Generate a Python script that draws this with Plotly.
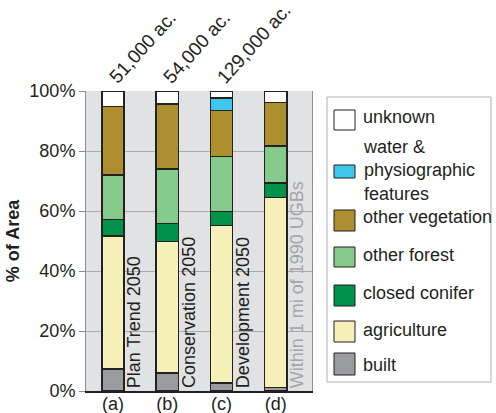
import plotly.graph_objects as go

scenarios = ["(a)", "(b)", "(c)", "(d)"]
scenario_names = ["Plan Trend 2050", "Conservation 2050", "Development 2050", "Within 1 mi of 1990 UGBs"]
areas = ["51,000 ac.", "54,000 ac.", "129,000 ac.", ""]

categories = ["built", "agriculture", "closed conifer", "other forest",
              "other vegetation", "water &<br>physiographic<br>features", "unknown"]
built = [7.3, 6.0, 2.6, 1.2]
agriculture = [44.4, 43.8, 52.5, 63.3]
closed_conifer = [5.4, 6.0, 4.8, 4.8]
other_forest = [14.9, 18.2, 18.3, 12.3]
other_vegetation = [22.9, 21.7, 15.3, 14.5]
water = [0.0, 0.0, 4.1, 0.0]
unknown = [5.1, 4.3, 2.4, 3.9]

series = [built, agriculture, closed_conifer, other_forest, other_vegetation, water, unknown]
colors = ["#9b9ca0", "#f6f1b8", "#00914b", "#85ca8b", "#ad8f30", "#3ec6ec", "#ffffff"]

x = list(range(len(scenarios)))
fig = go.Figure()
for name, vals, col in zip(categories, series, colors):
    fig.add_trace(go.Bar(x=x, y=vals, name=name, width=0.41,
                         marker=dict(color=col, line=dict(color="#222222", width=1.5)),
                         showlegend=False))

FONT = "Liberation Sans, Arial, Helvetica, sans-serif"
FS = 18
fig.update_layout(
    width=496, height=413, barmode="stack",
    margin=dict(l=86, r=184, t=91, b=22),
    paper_bgcolor="white", plot_bgcolor="#e1e2e4",
    font=dict(family=FONT, size=FS, color="#231f20"),
    xaxis=dict(range=[-0.5, 3.67], tickvals=x, ticktext=scenarios, showgrid=False,
               showline=True, linecolor="#231f20", linewidth=1.5, ticks="", zeroline=False,
               automargin=False, tickfont=dict(size=FS), ticklabelstandoff=-4),
    yaxis=dict(range=[0, 100], tickvals=[0, 20, 40, 60, 80, 100],
               ticktext=["0%", "20%", "40%", "60%", "80%", "100%"],
               showgrid=True, gridcolor="#a8aaad", gridwidth=1,
               showline=True, linecolor="#8d8f92", linewidth=1, mirror=True,
               ticks="outside", ticklen=6, tickcolor="#8d8f92", zeroline=False,
               automargin=False, tickfont=dict(size=FS),
               title=dict(text="<b>% of Area</b>", standoff=5, font=dict(size=FS))),
)

# scenario labels inside plot
for i, nm in enumerate(scenario_names):
    fig.add_annotation(x=i + 0.39, y=0, text=nm, textangle=-90, showarrow=False,
                       xanchor="center", yanchor="bottom", yshift=1,
                       font=dict(size=FS, color="#a3a5a8" if i == 3 else "#231f20"))
# area labels above bars
for i, a in enumerate(areas):
    if a:
        fig.add_annotation(x=i - 0.21, y=100, text=a, textangle=-48, showarrow=False,
                           xanchor="left", yanchor="bottom", yshift=1,
                           font=dict(size=19, color="#231f20"))

# manual legend (paper coordinates)
X0, X1, Y0, Y1 = 86, 312, 391, 91
def px(v):
    return (v - X0) / (X1 - X0)
def py(v):
    return (Y0 - v) / (Y0 - Y1)

fig.add_shape(type="rect", xref="paper", yref="paper", x0=px(327), x1=px(491), y0=py(97), y1=py(382),
              line=dict(color="#b0b2b5", width=1), fillcolor="white", layer="below")
leg = [  # (label index, swatch top, swatch bottom, text center y)
    (6, 110, 130, 117),
    (5, 165, 178, 170),
    (4, 210, 231, 217),
    (3, 247, 267, 255),
    (2, 285, 306, 293),
    (1, 321, 342, 330),
    (0, 353, 375, 365),
]
for idx, t, b, ty in leg:
    fig.add_shape(type="rect", xref="paper", yref="paper", x0=px(334), x1=px(355),
                  y0=py(b), y1=py(t), fillcolor=colors[idx],
                  line=dict(color="#231f20", width=1))
    fig.add_annotation(xref="paper", yref="paper", x=px(361), y=py(ty), text=categories[idx],
                       showarrow=False, xanchor="left", yanchor="middle", align="left",
                       font=dict(size=FS, color="#231f20"))

fig.write_html("out.html")
